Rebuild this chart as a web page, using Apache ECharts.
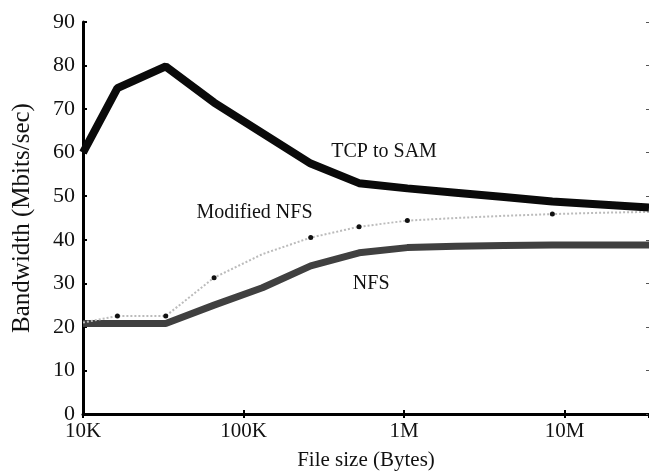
<!DOCTYPE html>
<html>
<head>
<meta charset="utf-8">
<script src="https://cdn.jsdelivr.net/npm/echarts@6/dist/echarts.min.js"></script>
<style>html,body{margin:0;padding:0;background:#fff}#c{width:649px;height:472px}</style>
</head>
<body>
<div id="c"></div>
<script>
// File sizes in bytes (powers of two, first point at 10K)
var fileSizes = [10000, 16384, 32768, 65536, 131072, 262144, 524288, 1048576, 2097152, 4194304, 8388608, 16777216, 33554432];
// Bandwidth (Mbits/sec)
var tcpToSam    = [60, 74.8, 79.8, 71.5, 64.5, 57.5, 53, 51.8, 50.8, 49.8, 48.8, 48.1, 47.4];
var modifiedNfs = [21, 22.5, 22.5, 31.3, 36.7, 40.5, 43, 44.4, 45, 45.5, 45.9, 46.2, 46.4];
var nfs         = [20.8, 20.8, 20.8, 25, 29, 34, 37, 38.2, 38.5, 38.7, 38.8, 38.8, 38.8];
var modifiedNfsDotted = [1, 2, 3, 5, 6, 7, 10];
var xTickLabels = {10000: '10K', 100000: '100K', 1000000: '1M', 10000000: '10M'};

function pairs(ys) { return fileSizes.map(function (x, i) { return [x, ys[i]]; }); }

var FONT = '"Liberation Serif", "Times New Roman", serif';
var chart = echarts.init(document.getElementById('c'), null, {renderer: 'canvas'});
var labelStyle = {fontFamily: FONT, fontSize: 20, color: '#111'};

chart.setOption({
  animation: false,
  backgroundColor: '#fff',
  grid: {left: 83, right: 0, top: 22, bottom: 58, containLabel: false, outerBoundsMode: 'none'},
  xAxis: [{
    type: 'log', logBase: 10, min: 10000, max: 33554432, position: 'bottom',
    name: 'File size (Bytes)', nameLocation: 'middle', nameGap: 36,
    nameTextStyle: {fontFamily: FONT, fontSize: 21, color: '#111'},
    axisLine: {show: true, lineStyle: {color: '#000', width: 3}},
    axisTick: {show: true, inside: true, length: 4, lineStyle: {color: '#000', width: 2}},
    minorTick: {show: false},
    splitLine: {show: false},
    axisLabel: {show: true, margin: 7, fontFamily: FONT, fontSize: 21, color: '#111', showMaxLabel: false,
      formatter: function (v) { return xTickLabels[Math.round(v)] || ''; }}
  }, {
    type: 'log', logBase: 10, min: 10000, max: 33554432, position: 'top',
    axisLine: {show: true, lineStyle: {color: '#000', width: 2}},
    axisTick: {show: true, inside: true, length: 4, lineStyle: {color: '#000', width: 2}},
    splitLine: {show: false}, axisLabel: {show: false}
  }],
  yAxis: [{
    type: 'value', min: 0, max: 90, interval: 10, position: 'left',
    name: 'Bandwidth (Mbits/sec)', nameLocation: 'middle', nameGap: 48, nameRotate: 90,
    nameTextStyle: {fontFamily: FONT, fontSize: 25, color: '#111'},
    axisLine: {show: true, lineStyle: {color: '#000', width: 3}},
    axisTick: {show: true, inside: true, length: 4, lineStyle: {color: '#000', width: 2}},
    splitLine: {show: false},
    axisLabel: {margin: 8, fontFamily: FONT, fontSize: 22, color: '#111'}
  }, {
    type: 'value', min: 0, max: 90, interval: 10, position: 'right',
    axisLine: {show: false},
    axisTick: {show: true, inside: true, length: 3, lineStyle: {color: '#555', width: 1}},
    splitLine: {show: false}, axisLabel: {show: false}
  }],
  series: [{
    name: 'Modified NFS', type: 'line', data: pairs(modifiedNfs), z: 3,
    lineStyle: {color: '#bbb', width: 2, type: 'dotted'},
    symbol: 'circle',
    symbolSize: function (v, p) { return modifiedNfsDotted.indexOf(p.dataIndex) >= 0 ? 5 : 0; },
    itemStyle: {color: '#111'},
    markPoint: {symbol: 'circle', symbolSize: 0, silent: true,
      data: [{coord: [117000, 46.1], label: Object.assign({show: true, position: 'inside', formatter: 'Modified NFS'}, labelStyle)}]}
  }, {
    name: 'NFS', type: 'line', data: pairs(nfs), z: 2,
    lineStyle: {color: '#404040', width: 7}, showSymbol: false, symbol: 'none',
    markPoint: {symbol: 'circle', symbolSize: 0, silent: true,
      data: [{coord: [624000, 30], label: Object.assign({show: true, position: 'inside', formatter: 'NFS'}, labelStyle)}]}
  }, {
    name: 'TCP to SAM', type: 'line', data: pairs(tcpToSam), z: 4,
    lineStyle: {color: '#0a0a0a', width: 8}, showSymbol: false, symbol: 'none',
    markPoint: {symbol: 'circle', symbolSize: 0, silent: true,
      data: [{coord: [751000, 60.1], label: Object.assign({show: true, position: 'inside', formatter: 'TCP to SAM'}, labelStyle)}]}
  }]
});
</script>
</body>
</html>
